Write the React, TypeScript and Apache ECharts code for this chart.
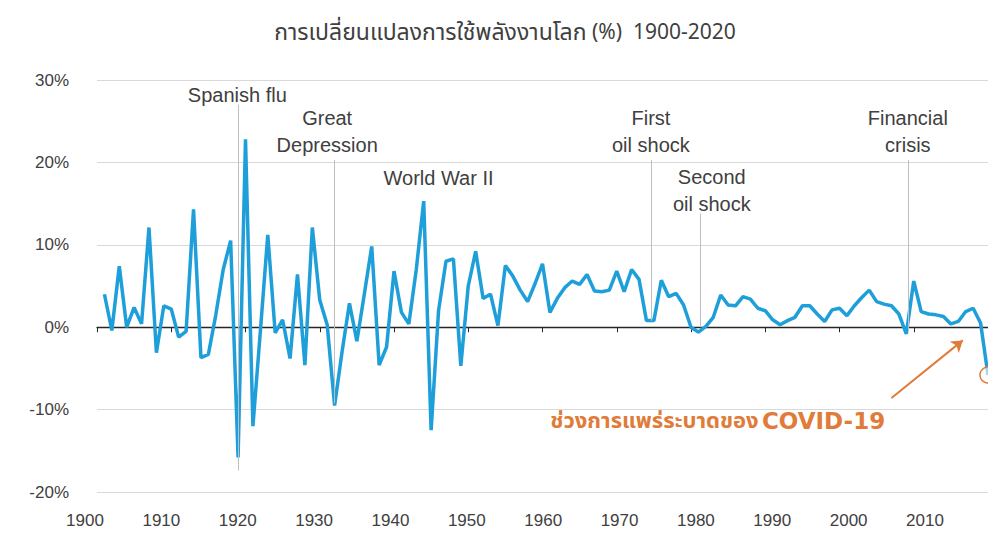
import React, { useEffect, useRef } from "react";
import * as echarts from "echarts";

const TITLE_TH = "การเปลี่ยนแปลงการใช้พลังงานโลก";
const TITLE_REST = "(%)  1900-2020";
const COVID_TEXT_TH = "ช่วงการแพร่ระบาดของ";
const COVID_TEXT_EN = "COVID-19";

const FIRST_YEAR = 1901;
// Annual change in world energy use (%), 1901-2020
const growth = [
  4.0, -0.4, 7.4, 0.0, 2.4, 0.4, 12.1, -3.1, 2.6, 2.2,
  -1.2, -0.5, 14.3, -3.7, -3.3, 1.5, 7.0, 10.5, -15.8, 22.8,
  -12.0, -0.5, 11.2, -0.7, 0.9, -3.8, 6.4, -4.6, 12.1, 3.3,
  0.3, -9.5, -3.0, 2.9, -1.7, 4.0, 9.8, -4.6, -2.4, 6.8,
  1.8, 0.4, 7.0, 15.3, -12.5, 2.0, 8.0, 8.3, -4.7, 5.0,
  9.2, 3.5, 4.0, 0.2, 7.5, 6.2, 4.5, 3.1, 5.3, 7.7,
  1.8, 3.5, 4.8, 5.6, 5.2, 6.4, 4.4, 4.3, 4.5, 6.8,
  4.3, 7.0, 5.8, 0.8, 0.8, 5.7, 3.7, 4.1, 2.7, 0.0,
  -0.6, 0.1, 1.2, 3.9, 2.7, 2.6, 3.7, 3.4, 2.3, 2.0,
  0.9, 0.3, 0.8, 1.2, 2.6, 2.6, 1.6, 0.7, 2.1, 2.3,
  1.4, 2.6, 3.6, 4.5, 3.1, 2.8, 2.6, 1.6, -0.8, 5.6,
  1.9, 1.6, 1.5, 1.3, 0.4, 0.7, 1.9, 2.3, 0.5, -5.8,
];

const yTickValues = [-20, -10, 0, 10, 20, 30];
const xLabelYears = [1900, 1910, 1920, 1930, 1940, 1950, 1960, 1970, 1980, 1990, 2000, 2010];

const eventNames = [
  "Spanish flu",
  "Great\nDepression",
  "World War II",
  "First\noil shock",
  "Second\noil shock",
  "Financial\ncrisis",
];
const eventYears = [1919, 1932, 1944, 1974.7, 1981.2, 2009.2];

export default function App() {
  const ref = useRef<HTMLDivElement>(null);

  useEffect(() => {
    if (!ref.current) return;
    const chart = echarts.init(ref.current, undefined, { renderer: "svg" });

    const font = "'Liberation Sans', Arial, sans-serif";
    const thaiFont = "Tahoma, 'Noto Sans Thai', 'Noto Sans', 'DejaVu Sans', sans-serif";

    // label anchors [year, value] (text block centers) and guide-line extents
    const labelAnchors: [number, number][] = [
      [1918.9, 28.2],
      [1931.0, 23.7],
      [1946.0, 18.1],
      [1974.6, 23.8],
      [1982.8, 16.6],
      [2009.2, 23.7],
    ];
    const guideLines: ([number, number] | null)[] = [
      [27.0, -17.4],
      [20.3, -9.2],
      null,
      [20.3, 0.8],
      [13.8, 0.0],
      [20.3, -0.4],
    ];

    const markLineData: any[] = [];
    eventYears.forEach((yr, i) => {
      const g = guideLines[i];
      if (g) markLineData.push([{ coord: [yr, g[0]] }, { coord: [yr, g[1]] }]);
    });

    const markPointData = eventNames.map((name, i) => ({
      name,
      coord: labelAnchors[i],
      value: name,
    }));

    const lineData = growth.map((v, i) => [FIRST_YEAR + i, v]);
    const lastYear = FIRST_YEAR + growth.length - 1;
    const lastValue = growth[growth.length - 1];

    chart.setOption({
      animation: false,
      backgroundColor: "#ffffff",
      title: {
        text: "{t|" + TITLE_TH + "} {n|" + TITLE_REST + "}",
        left: 500,
        textAlign: "center",
        top: 16,
        textStyle: {
          fontFamily: thaiFont,
          fontSize: 21,
          fontWeight: "normal",
          color: "#404040",
          rich: {
            t: { fontFamily: thaiFont, fontSize: 23, color: "#404040" },
            n: { fontFamily: thaiFont, fontSize: 21, color: "#404040" },
          },
        },
      },
      grid: [
        { left: 97, right: 0, top: 80, bottom: 44, containLabel: false },
        { left: 85, right: 63, top: 80, bottom: 44, containLabel: false },
      ],
      xAxis: [
        {
          type: "value",
          gridIndex: 0,
          min: 1900,
          max: 2020,
          interval: 10,
          position: "bottom",
          axisLine: { show: true, onZero: true, lineStyle: { color: "#262626", width: 1.3 } },
          axisTick: { show: true, length: 5, lineStyle: { color: "#262626" } },
          axisLabel: { show: false },
          splitLine: { show: false },
        },
        {
          type: "value",
          gridIndex: 1,
          min: xLabelYears[0],
          max: xLabelYears[xLabelYears.length - 1],
          interval: 10,
          position: "bottom",
          axisLine: { show: false, onZero: false },
          axisTick: { show: false },
          splitLine: { show: false },
          axisLabel: {
            show: true,
            formatter: (v: number) => String(Math.round(v)),
            fontFamily: font,
            fontSize: 17,
            color: "#404040",
            margin: 20,
          },
        },
      ],
      yAxis: [
        {
          type: "value",
          gridIndex: 0,
          min: yTickValues[0],
          max: yTickValues[yTickValues.length - 1],
          interval: 10,
          axisLine: { show: false },
          axisTick: { show: false },
          axisLabel: {
            formatter: "{value}%",
            fontFamily: font,
            fontSize: 17,
            color: "#404040",
            margin: 28,
          },
          splitLine: { lineStyle: { color: "#D9D9D9", width: 1 } },
        },
        {
          type: "value",
          gridIndex: 1,
          min: yTickValues[0],
          max: yTickValues[yTickValues.length - 1],
          show: false,
          splitLine: { show: false },
        },
      ],
      series: [
        {
          type: "line",
          xAxisIndex: 0,
          yAxisIndex: 0,
          data: [],
          z: 1,
          silent: true,
          markLine: {
            silent: true,
            symbol: "none",
            label: { show: false },
            lineStyle: { color: "#BFBFBF", width: 1, type: "solid" },
            data: markLineData,
          },
          markPoint: {
            silent: true,
            symbol: "circle",
            symbolSize: 1,
            itemStyle: { color: "rgba(0,0,0,0)" },
            label: {
              show: true,
              position: "inside",
              formatter: (p: any) => p.name,
              fontFamily: font,
              fontSize: 20,
              lineHeight: 27,
              color: "#404040",
            },
            data: markPointData,
          },
        },
        {
          type: "line",
          xAxisIndex: 0,
          yAxisIndex: 0,
          data: lineData,
          z: 3,
          symbol: "none",
          showSymbol: false,
          clip: false,
          lineStyle: { color: "#1F9FD9", width: 3.5 },
        },
        {
          type: "line",
          xAxisIndex: 0,
          yAxisIndex: 0,
          data: [],
          z: 4,
          silent: true,
          markPoint: {
            silent: true,
            data: [
              {
                coord: [lastYear, lastValue],
                symbol: "circle",
                symbolSize: 16,
                itemStyle: { color: "rgba(255,255,255,0.6)", borderColor: "#E07B39", borderWidth: 1.5 },
                label: { show: false },
              },
            ],
          },
        },
        {
          type: "line",
          xAxisIndex: 0,
          yAxisIndex: 0,
          data: [],
          z: 2,
          silent: true,
          markLine: {
            silent: true,
            symbol: ["none", "arrow"],
            symbolSize: 11,
            label: { show: false },
            lineStyle: { color: "#E07B39", width: 2, type: "solid" },
            data: [[{ coord: [2007.0, -8.6] }, { coord: [2016.6, -1.6] }]],
          },
          markPoint: {
            silent: true,
            symbol: "circle",
            symbolSize: 1,
            itemStyle: { color: "rgba(0,0,0,0)" },
            label: {
              show: true,
              position: "inside",
              formatter: "{a|" + COVID_TEXT_TH + "} {b|" + COVID_TEXT_EN + "}",
              rich: {
                a: {
                  fontFamily: thaiFont,
                  fontSize: 22,
                  fontWeight: "bold",
                  color: "#E07B39",
                },
                b: {
                  fontFamily: "'DejaVu Sans', Verdana, sans-serif",
                  fontSize: 23,
                  fontWeight: "bold",
                  color: "#E07B39",
                },
              },
            },
            data: [{ name: "covid", coord: [1983.6, -11.4] }],
          },
        },
      ],
    });

    return () => chart.dispose();
  }, []);

  return (
    <div
      ref={ref}
      style={{ position: "fixed", left: 0, top: 0, width: 988, height: 536, background: "#fff" }}
    />
  );
}
